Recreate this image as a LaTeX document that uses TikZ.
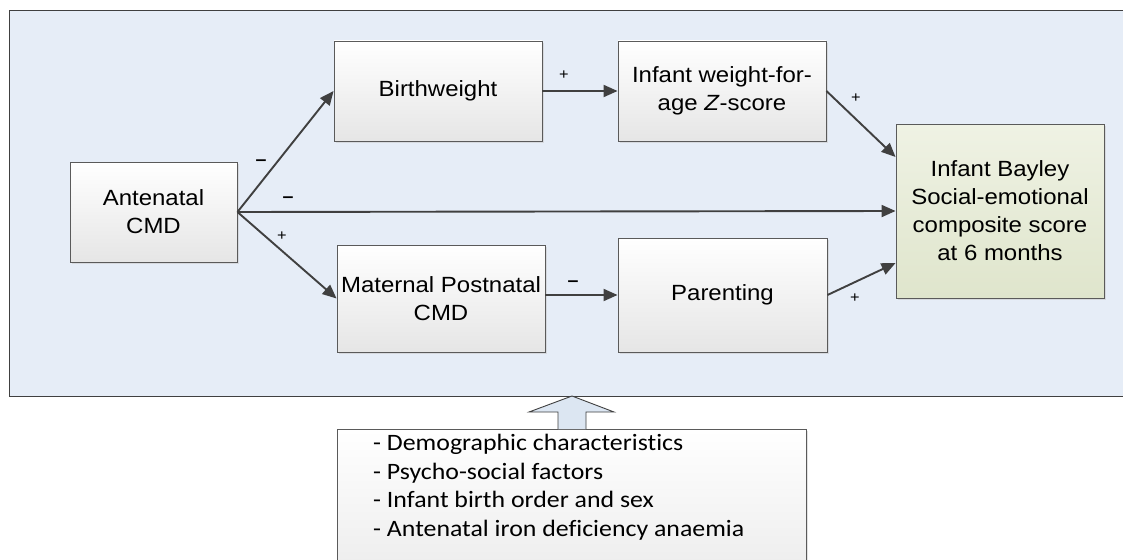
\documentclass[tikz,border=0pt]{standalone}
\usepackage{fontspec}
\setmainfont{Liberation Sans}[FakeStretch=1.09]
\newfontfamily\calib{Carlito}[FakeStretch=1.10,Ligatures=NoCommon]
\usetikzlibrary{arrows.meta,shadows}
\definecolor{bgblue}{HTML}{E6EDF7}
\definecolor{edgegray}{HTML}{5A5A5A}
\definecolor{arrowgray}{HTML}{404040}
\definecolor{greentop}{HTML}{EFF2E4}
\definecolor{greenbot}{HTML}{DFE5CC}
\definecolor{blockblue}{HTML}{DCE6F2}
\tikzset{
  box/.style={draw=edgegray, line width=0.9pt, top color=white, bottom color=black!10,
    drop shadow={shadow xshift=2pt, shadow yshift=-2pt, fill=black!22},
    font=\fontsize{22}{28}\selectfont, align=center, inner sep=0pt},
  outbox/.style={box, top color=greentop, bottom color=greenbot},
  conn/.style={draw=arrowgray, line width=1.9pt, -{Triangle[length=14pt,width=12pt]}},
  sign/.style={font=\fontsize{15}{15}\selectfont, text=black, inner sep=0pt},
  minus/.style={font=\fontsize{18}{18}\selectfont\bfseries, text=black, inner sep=0pt},
  covbox/.style={draw=edgegray, line width=0.9pt, top color=white, bottom color=black!8,
    drop shadow={shadow xshift=2pt, shadow yshift=-2pt, fill=black!22}, inner sep=0pt},
  covtext/.style={font=\calib\fontsize{23.5}{28.5}\selectfont, align=left, inner sep=0pt},
}
\begin{document}
\begin{tikzpicture}[x=1pt,y=-1pt]
\useasboundingbox (0,0) rectangle (1123,559);
\fill[white] (0,0) rectangle (1123,559);
% outer frame
\draw[draw=arrowgray, line width=0.9pt, fill=bgblue] (9,10) rectangle (1135,396);
% nodes
\node[box, minimum width=167pt, minimum height=100pt] (ante) at (153.5,212) {Antenatal\\CMD};
\node[box, minimum width=208pt, minimum height=100pt] (birth) at (438,91) {Birthweight};
\node[box, minimum width=208pt, minimum height=100pt] (wfa) at (722,91) {Infant weight-for-\\age \textit{Z}-score};
\node[outbox, minimum width=208pt, minimum height=174pt] (bay) at (1000,211) {Infant Bayley\\Social-emotional\\composite score\\at 6 months};
\node[box, minimum width=208pt, minimum height=107pt] (mat) at (441,298.5) {Maternal Postnatal\\CMD};
\node[box, minimum width=209pt, minimum height=114pt] (par) at (722.5,295) {Parenting};
% connectors
\draw[conn] (ante.east) -- (birth.west);
\draw[conn] (ante.east) -- (bay.west);
\draw[conn] (ante.east) -- (mat.west);
\draw[conn] (birth.east) -- (wfa.west);
\draw[conn] (wfa.east) -- ([yshift=54pt]bay.west);
\draw[conn] (mat.east |- par.west) -- (par.west);
\draw[conn] (par.east) -- ([yshift=-52pt]bay.west);
% signs
\node[minus] (s1) at (261,163) {\textendash};
\node[minus] (s2) at (288,200) {\textendash};
\node[sign] (s3) at (282,236) {+};
\node[sign] (s4) at (564,75) {+};
\node[sign] (s5) at (856,98) {+};
\node[minus] (s6) at (573,284) {\textendash};
\node[sign] (s7) at (855,298) {+};
% covariates box
\node[covbox, anchor=north west, minimum width=469pt, minimum height=160pt] (cov) at (337,429) {};
\node[covtext, anchor=north west] (covt) at (373,434)
  {- Demographic characteristics\\- Psycho-social factors\\- Infant birth order and sex\\- Antenatal iron deficiency anaemia};
% block arrow
\draw[draw=arrowgray, line width=0.9pt, fill=blockblue]
  (558,429) -- (558,412) -- (529,412) -- (572,396) -- (614,412) -- (586,412) -- (586,429);
\end{tikzpicture}
\end{document}
